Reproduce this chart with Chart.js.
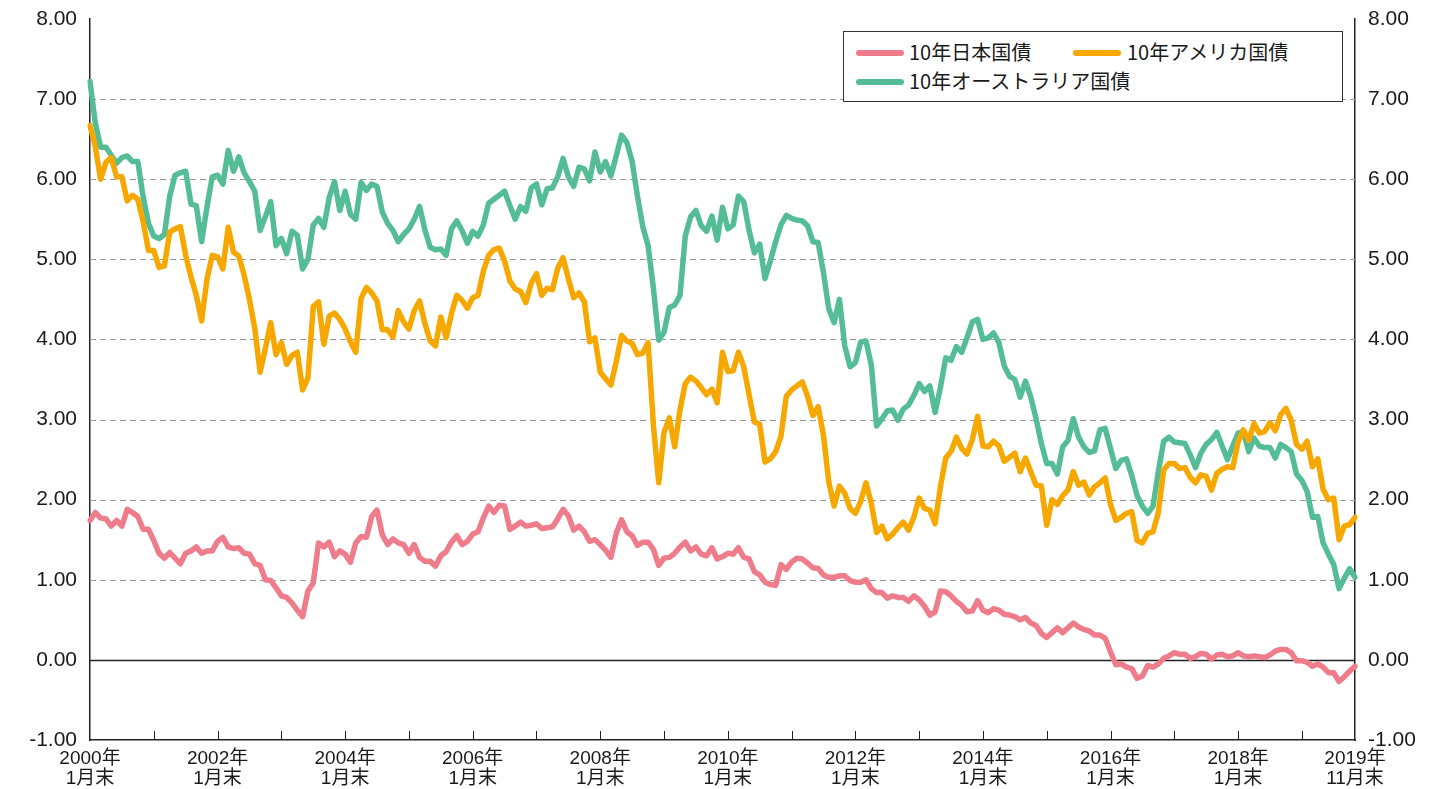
<!DOCTYPE html>
<html>
<head>
<meta charset="utf-8">
<script src="https://cdn.jsdelivr.net/npm/chart.js@4.4.1/dist/chart.umd.min.js"></script>
<style>
  html, body { margin: 0; padding: 0; background: #ffffff; }
  #wrap { position: relative; width: 1452px; height: 789px; }
  canvas { display: block; }
  #legend {
    position: absolute; left: 843px; top: 31px; width: 500px; height: 71px;
    box-sizing: border-box; border: 1.5px solid #333; background: #fff;
    font-family: "Noto Sans CJK JP", "Noto Sans", sans-serif; font-size: 20px; color: #1a1a1a;
  }
  #legend .sw { position: absolute; width: 48px; height: 6px; border-radius: 3px; }
  #legend .tx { position: absolute; line-height: 24px; white-space: nowrap; }
</style>
</head>
<body>
<div id="wrap">
  <canvas id="c" width="1452" height="789"></canvas>
  <div id="legend"></div>
</div>
<script>
// ---- categories: month-end observations, Jan 2000 .. Nov 2019 ----
const startYear = 2000;
const monthCount = 239;
const categories = [];
for (let k = 0; k < monthCount; k++) {
  const yy = startYear + Math.floor(k / 12), mm = (k % 12) + 1;
  categories.push(yy + '年' + mm + '月末');
}

// ---- tick labels (index into categories, two lines) ----
const tickIndex = [0, 24, 48, 72, 96, 120, 144, 168, 192, 216, 238];
const tickYear  = ['2000年','2002年','2004年','2006年','2008年','2010年','2012年','2014年','2016年','2018年','2019年'];
const tickMonth = ['1月末','1月末','1月末','1月末','1月末','1月末','1月末','1月末','1月末','1月末','11月末'];
const yTicks = [-1, 0, 1, 2, 3, 4, 5, 6, 7, 8];

// ---- series names / colours ----
const seriesNames = ['10年日本国債', '10年アメリカ国債', '10年オーストラリア国債'];
const seriesColors = ['#EF7C8B', '#F6A800', '#54BD96'];

// ---- 10年日本国債 (%) ----
const jgb10 = [
  1.74,1.84,1.77,1.76,1.67,1.74,1.67,1.88,1.84,1.79,1.63,1.63,
  1.49,1.33,1.27,1.34,1.27,1.20,1.33,1.36,1.41,1.33,1.36,1.36,
  1.48,1.53,1.41,1.39,1.40,1.33,1.32,1.20,1.18,1.00,0.99,0.90,
  0.80,0.78,0.71,0.62,0.54,0.86,0.96,1.46,1.41,1.47,1.29,1.36,
  1.32,1.22,1.46,1.54,1.53,1.79,1.87,1.56,1.44,1.51,1.46,1.44,
  1.33,1.44,1.28,1.23,1.23,1.17,1.30,1.35,1.47,1.55,1.44,1.48,
  1.57,1.60,1.77,1.92,1.84,1.93,1.92,1.63,1.67,1.72,1.67,1.68,
  1.70,1.64,1.65,1.66,1.76,1.88,1.80,1.62,1.67,1.60,1.48,1.50,
  1.44,1.37,1.28,1.58,1.75,1.60,1.55,1.43,1.47,1.47,1.38,1.18,
  1.27,1.28,1.33,1.41,1.47,1.36,1.41,1.32,1.30,1.40,1.26,1.29,
  1.33,1.32,1.40,1.28,1.26,1.10,1.06,0.97,0.94,0.93,1.19,1.13,
  1.22,1.27,1.26,1.21,1.15,1.14,1.06,1.03,1.03,1.05,1.05,0.99,
  0.97,0.97,1.00,0.89,0.84,0.84,0.77,0.80,0.78,0.78,0.73,0.80,
  0.75,0.67,0.56,0.60,0.86,0.85,0.80,0.73,0.68,0.60,0.61,0.74,
  0.62,0.59,0.64,0.62,0.57,0.56,0.54,0.50,0.53,0.46,0.43,0.33,
  0.28,0.34,0.40,0.34,0.40,0.46,0.41,0.38,0.36,0.31,0.31,0.27,
  0.10,-0.06,-0.05,-0.09,-0.11,-0.23,-0.20,-0.07,-0.09,-0.05,0.02,0.05,
  0.09,0.07,0.07,0.02,0.04,0.08,0.07,0.01,0.06,0.07,0.04,0.05,
  0.09,0.05,0.04,0.05,0.04,0.03,0.06,0.11,0.13,0.13,0.09,-0.01,
  -0.01,-0.03,-0.08,-0.05,-0.09,-0.16,-0.16,-0.27,-0.21,-0.14,-0.08
];

// ---- 10年アメリカ国債 (%) ----
const ust10 = [
  6.67,6.41,6.00,6.21,6.27,6.03,6.03,5.73,5.80,5.75,5.47,5.11,
  5.11,4.90,4.92,5.34,5.38,5.41,5.05,4.78,4.55,4.23,4.75,5.05,
  5.03,4.88,5.40,5.09,5.04,4.80,4.50,4.14,3.59,3.89,4.21,3.81,
  3.96,3.69,3.80,3.84,3.37,3.52,4.41,4.47,3.94,4.29,4.33,4.25,
  4.13,3.97,3.84,4.51,4.65,4.58,4.48,4.12,4.12,4.03,4.36,4.22,
  4.13,4.36,4.48,4.20,3.98,3.92,4.28,4.02,4.32,4.55,4.49,4.39,
  4.52,4.55,4.85,5.05,5.12,5.14,4.98,4.73,4.63,4.60,4.46,4.70,
  4.82,4.55,4.64,4.62,4.89,5.02,4.76,4.52,4.58,4.47,3.97,4.02,
  3.59,3.51,3.43,3.72,4.05,3.98,3.95,3.81,3.83,3.96,2.93,2.21,
  2.84,3.02,2.66,3.12,3.45,3.53,3.48,3.40,3.31,3.38,3.21,3.84,
  3.60,3.61,3.84,3.66,3.31,2.97,2.94,2.47,2.51,2.60,2.79,3.29,
  3.37,3.42,3.47,3.29,3.05,3.16,2.80,2.22,1.92,2.17,2.08,1.89,
  1.83,1.98,2.21,1.95,1.59,1.67,1.51,1.57,1.65,1.72,1.62,1.78,
  2.02,1.89,1.87,1.70,2.16,2.52,2.60,2.78,2.64,2.57,2.75,3.04,
  2.67,2.66,2.73,2.67,2.48,2.53,2.58,2.35,2.52,2.35,2.18,2.17,
  1.68,2.00,1.94,2.05,2.12,2.35,2.18,2.22,2.06,2.16,2.21,2.27,
  1.94,1.74,1.78,1.83,1.85,1.49,1.46,1.58,1.60,1.84,2.37,2.45,
  2.45,2.39,2.40,2.28,2.21,2.31,2.29,2.12,2.33,2.38,2.41,2.40,
  2.72,2.87,2.74,2.95,2.83,2.85,2.96,2.86,3.06,3.14,2.99,2.69,
  2.63,2.73,2.41,2.51,2.13,2.00,2.02,1.50,1.67,1.69,1.78
];

// ---- 10年オーストラリア国債 (%) ----
const agb10 = [
  7.22,6.70,6.40,6.40,6.30,6.20,6.27,6.29,6.22,6.22,5.78,5.45,
  5.29,5.26,5.31,5.79,6.05,6.08,6.10,5.69,5.67,5.22,5.65,6.03,
  6.05,5.94,6.36,6.10,6.28,6.08,5.97,5.85,5.36,5.53,5.72,5.17,
  5.26,5.07,5.35,5.30,4.88,5.00,5.43,5.51,5.40,5.77,5.97,5.61,
  5.85,5.56,5.50,5.96,5.86,5.94,5.91,5.59,5.45,5.36,5.22,5.31,
  5.38,5.50,5.66,5.37,5.15,5.12,5.13,5.05,5.38,5.48,5.36,5.20,
  5.35,5.29,5.43,5.70,5.75,5.80,5.85,5.67,5.50,5.66,5.60,5.89,
  5.94,5.68,5.88,5.89,6.03,6.26,6.03,5.91,6.15,6.13,5.98,6.34,
  6.09,6.22,6.04,6.29,6.55,6.46,6.22,5.79,5.41,5.17,4.64,3.99,
  4.09,4.40,4.43,4.55,5.29,5.53,5.61,5.42,5.35,5.54,5.24,5.65,
  5.38,5.43,5.79,5.72,5.36,5.08,5.19,4.76,4.98,5.22,5.43,5.55,
  5.51,5.49,5.48,5.42,5.22,5.21,4.83,4.38,4.21,4.50,3.92,3.66,
  3.71,3.97,3.98,3.68,2.92,3.01,3.11,3.12,2.99,3.13,3.18,3.30,
  3.45,3.35,3.42,3.09,3.40,3.77,3.74,3.91,3.84,4.02,4.22,4.25,
  4.00,4.02,4.08,3.96,3.67,3.54,3.50,3.28,3.48,3.28,3.01,2.70,
  2.45,2.45,2.32,2.66,2.74,3.01,2.78,2.66,2.59,2.61,2.87,2.89,
  2.64,2.39,2.49,2.51,2.30,2.05,1.92,1.83,1.92,2.35,2.73,2.78,
  2.72,2.71,2.70,2.56,2.40,2.58,2.69,2.75,2.84,2.67,2.50,2.67,
  2.83,2.85,2.60,2.77,2.67,2.65,2.65,2.52,2.69,2.65,2.60,2.32,
  2.24,2.10,1.78,1.79,1.46,1.32,1.19,0.89,1.02,1.14,1.03
];

// ---- legend (HTML overlay, real text) ----
(function buildLegend() {
  const box = document.getElementById('legend');
  const items = [
    { sw: [12, 18], tx: [65, 8] },
    { sw: [229, 18], tx: [283, 8] },
    { sw: [12, 47], tx: [65, 37] }
  ];
  items.forEach((it, k) => {
    const s = document.createElement('div');
    s.className = 'sw'; s.style.left = it.sw[0] + 'px'; s.style.top = it.sw[1] + 'px';
    s.style.background = seriesColors[k];
    const t = document.createElement('div');
    t.className = 'tx'; t.style.left = it.tx[0] + 'px'; t.style.top = it.tx[1] + 'px';
    t.textContent = seriesNames[k];
    box.appendChild(s); box.appendChild(t);
  });
})();

// ---- plugins: horizontal grid & year tick marks via the scales ----
const gridPlugin = {
  id: 'customGrid',
  beforeDatasetsDraw(chart) {
    const { ctx, chartArea, scales } = chart;
    const ys = scales.y;
    ctx.save();
    yTicks.forEach(v => {
      if (v === yTicks[0] || v === yTicks[yTicks.length - 1]) return;
      const py = Math.round(ys.getPixelForValue(v)) + 0.5;
      ctx.beginPath();
      if (v === 0) {
        ctx.setLineDash([]); ctx.strokeStyle = '#222'; ctx.lineWidth = 1.3;
      } else {
        ctx.setLineDash([6, 4]); ctx.strokeStyle = '#9a9a9a'; ctx.lineWidth = 1;
      }
      ctx.moveTo(chartArea.left, py); ctx.lineTo(chartArea.right, py); ctx.stroke();
    });
    ctx.restore();
  },
  afterDatasetsDraw(chart) {
    const { ctx, chartArea, scales } = chart;
    const xs = scales.x;
    ctx.save();
    ctx.strokeStyle = '#222'; ctx.lineWidth = 1; ctx.setLineDash([]);
    for (let k = 12; k < categories.length; k += 12) {
      const px = Math.round(xs.getPixelForValue(k)) + 0.5;
      ctx.beginPath(); ctx.moveTo(px, chartArea.bottom); ctx.lineTo(px, chartArea.bottom - 9); ctx.stroke();
    }
    ctx.restore();
  }
};

Chart.defaults.font.family = '"Liberation Sans", Arial, "Noto Sans CJK JP", sans-serif';
Chart.defaults.color = '#1a1a1a';

function fixVertical(width) {
  return s => { s.width = width; s.paddingTop = 0; s.paddingBottom = 0; };
}

const yAxisCommon = {
  min: -1, max: 8,
  grid: { display: false, drawTicks: false },
  border: { display: true, color: '#222', width: 1.5 },
  ticks: { stepSize: 1, padding: 13, font: { size: 21 }, color: '#1a1a1a',
           callback: v => Number(v).toFixed(2) }
};

new Chart(document.getElementById('c'), {
  type: 'line',
  data: {
    labels: categories,
    datasets: [
      { label: seriesNames[0], data: jgb10, borderColor: seriesColors[0] },
      { label: seriesNames[1], data: ust10, borderColor: seriesColors[1] },
      { label: seriesNames[2], data: agb10, borderColor: seriesColors[2] }
    ]
  },
  options: {
    responsive: false,
    animation: false,
    devicePixelRatio: 1,
    layout: { autoPadding: false, padding: { top: 19, left: 0, right: 0, bottom: 0 } },
    plugins: { legend: { display: false }, tooltip: { enabled: false } },
    elements: {
      point: { radius: 0, hoverRadius: 0 },
      line: { borderWidth: 5.5, tension: 0, borderJoinStyle: 'round', borderCapStyle: 'round', fill: false }
    },
    scales: {
      x: {
        type: 'category', offset: false,
        grid: { display: false, drawTicks: false },
        border: { display: true, color: '#222', width: 1.5 },
        ticks: {
          autoSkip: false, maxRotation: 0, minRotation: 0, padding: 9,
          font: { size: 19, lineHeight: 1.05 }, color: '#1a1a1a',
          callback: (v, i) => {
            const p = tickIndex.indexOf(i);
            return p >= 0 ? [tickYear[p], tickMonth[p]] : null;
          }
        },
        afterFit: s => { s.height = 49; s.paddingLeft = 0; s.paddingRight = 0; }
      },
      y: Object.assign({ position: 'left', afterFit: fixVertical(90) }, yAxisCommon),
      y2: Object.assign({ position: 'right', afterFit: fixVertical(97) }, yAxisCommon)
    }
  },
  plugins: [gridPlugin]
});
</script>
</body>
</html>
